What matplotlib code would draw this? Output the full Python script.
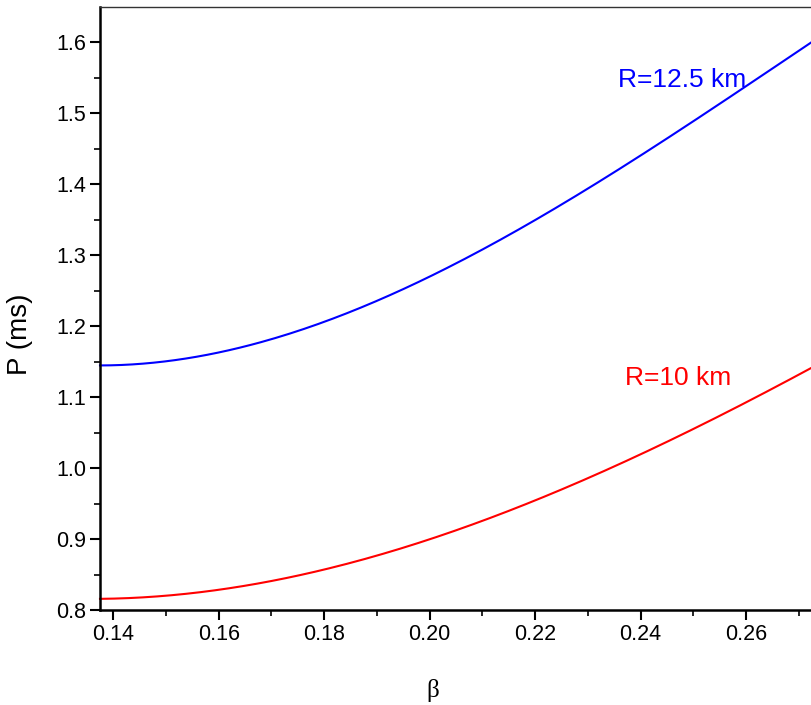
import matplotlib.pyplot as plt
import numpy as np

# beta vs spin period P (ms)
beta_blue = [0.1375, 0.14, 0.16, 0.1754, 0.18, 0.1944, 0.2039, 0.2134, 0.2228, 0.2323, 0.24, 0.2608, 0.2725]
p_blue = [1.142, 1.146, 1.167, 1.195, 1.206, 1.249, 1.281, 1.322, 1.360, 1.402, 1.449, 1.541, 1.600]

beta_red = [0.1375, 0.16, 0.1754, 0.1773, 0.1944, 0.2039, 0.2134, 0.2228, 0.24, 0.2608, 0.2725]
p_red = [0.8137, 0.832, 0.852, 0.855, 0.876, 0.906, 0.937, 0.969, 1.019, 1.096, 1.141]

xticks = [0.14, 0.16, 0.18, 0.20, 0.22, 0.24, 0.26]
yticks = [0.8, 0.9, 1.0, 1.1, 1.2, 1.3, 1.4, 1.5, 1.6]

plt.rcParams['font.family'] = ['Liberation Sans', 'DejaVu Sans']

fig = plt.figure(figsize=(8.12, 7.05), dpi=100)
ax = fig.add_axes([100 / 812, 95 / 705, 1 - 100 / 812, 603 / 705])

# smooth curves through the read points
def smooth(x, y):
    c = np.polyfit(x, y, 3)
    xs = np.linspace(x[0], x[-1], 200)
    return xs, np.polyval(c, xs)

xb, yb = smooth(beta_blue, p_blue)
xr, yr = smooth(beta_red, p_red)
ax.plot(xb, yb, color='#0000ff', lw=1.5, clip_on=False)
ax.plot(xr, yr, color='#ff0000', lw=1.5, clip_on=False)

ax.set_xlim(0.1375, 0.2725)
ax.set_ylim(0.8, 1.65)
ax.set_xticks(xticks)
ax.set_xticklabels(['%.2f' % v for v in xticks])
ax.set_yticks(yticks)
ax.set_yticklabels(['%.1f' % v for v in yticks])
ax.set_xticks(np.arange(0.15, 0.275, 0.02), minor=True)
ax.set_yticks(np.arange(0.85, 1.65, 0.1), minor=True)
ax.tick_params(which='major', direction='out', length=7, width=1.5, labelsize=15.5, pad=3)
ax.tick_params(which='minor', direction='out', length=4, width=1.2)
ax.tick_params(top=False, right=False, which='both')

ax.spines['left'].set_linewidth(1.8)
ax.spines['bottom'].set_linewidth(1.8)
ax.spines['top'].set_linewidth(1.0)
ax.spines['top'].set_color('#333333')
ax.spines['right'].set_visible(False)

ax.set_ylabel('P (ms)', fontsize=20, va='center')
ax.yaxis.set_label_coords(-0.112, 0.458)
ax.set_xlabel('β', fontsize=18, family=['Liberation Serif', 'DejaVu Serif'], va='center')
ax.xaxis.set_label_coords(0.468, -0.133)

ax.text(0.2357, 1.547, 'R=12.5 km', color='#0000ff', fontsize=19, ha='left', va='center')
ax.text(0.2371, 1.127, 'R=10 km', color='#ff0000', fontsize=19, ha='left', va='center')

fig.savefig('out.png', dpi=100)
